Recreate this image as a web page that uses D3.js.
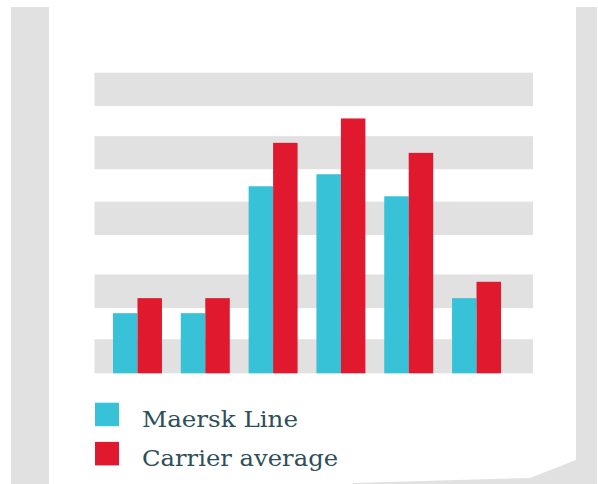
<!DOCTYPE html>
<html>
<head>
<meta charset="utf-8">
<script src="https://cdn.jsdelivr.net/npm/d3@7"></script>
<style>
  html, body { margin: 0; padding: 0; background: #ffffff; }
  svg { display: block; }
</style>
</head>
<body>
<svg id="chart" width="598" height="484"></svg>
<script>
// Six groups, two series each
const categories = ["1", "2", "3", "4", "5", "6"];
const seriesNames = ["Maersk Line", "Carrier average"];
const maerskLine = [18, 18, 56, 59.6, 53, 22.5];
const carrierAverage = [22.5, 22.5, 69, 76.3, 66, 27.4];
// Alternating background bands, in value units
const bandStarts = [0, 19.5, 41.4, 61.1, 80];
const bandEnds = [10.2, 29.6, 51.4, 71, 90];

const colors = ["#38c2d8", "#e0192f"];
const grey = "#e0e1e0";

const svg = d3.select("#chart");

// Paper sheet on a grey backdrop
svg.append("rect").attr("x", 11).attr("y", 7).attr("width", 586).attr("height", 477).attr("fill", grey);
svg.append("path")
  .attr("d", "M49,7 L576,7 L576,460 L530,478 L353,483 L353,484 L49,484 Z")
  .attr("fill", "#ffffff");

const y = d3.scaleLinear().domain([0, 90]).range([373.3, 72.7]);
const x0 = d3.scaleBand().domain(categories).range([113, 501]).paddingInner(0.278).paddingOuter(0);
const x1 = d3.scaleBand().domain(seriesNames).range([0, x0.bandwidth()]).padding(0);

// Background bands
svg.append("g").selectAll("rect")
  .data(d3.zip(bandStarts, bandEnds))
  .join("rect")
  .attr("x", 94.5)
  .attr("width", 438.5)
  .attr("y", d => y(d[1]))
  .attr("height", d => y(d[0]) - y(d[1]))
  .attr("fill", grey);

// Bars
const rows = categories.map((c, i) => ({ c, vals: [maerskLine[i], carrierAverage[i]] }));
svg.append("g").selectAll("g")
  .data(rows)
  .join("g")
  .attr("transform", d => `translate(${x0(d.c)},0)`)
  .selectAll("rect")
  .data(d => d.vals.map((v, j) => ({ name: seriesNames[j], v, j })))
  .join("rect")
  .attr("x", d => x1(d.name))
  .attr("width", x1.bandwidth())
  .attr("y", d => y(d.v))
  .attr("height", d => y(0) - y(d.v))
  .attr("fill", d => colors[d.j]);

// Legend
const legend = svg.append("g");
const widths = [156, 196];
seriesNames.forEach((name, i) => {
  const top = 402.7 + i * 39.2;
  legend.append("rect").attr("x", 95).attr("y", top).attr("width", 24).attr("height", 23.5).attr("fill", colors[i]);
  legend.append("text")
    .attr("x", 142).attr("y", top + 23.8)
    .attr("font-family", "'DejaVu Serif', serif")
    .attr("font-size", 22.5)
    .attr("fill", "#2e4f5a")
    .attr("textLength", widths[i])
    .attr("lengthAdjust", "spacingAndGlyphs")
    .text(name);
});
</script>
</body>
</html>
